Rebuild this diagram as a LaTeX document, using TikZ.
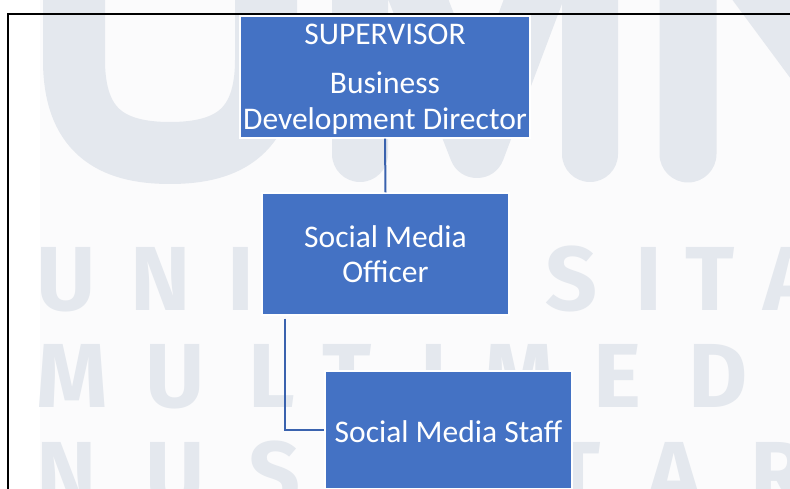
\documentclass[tikz,border=0pt]{standalone}
\usepackage{fontspec}
\setmainfont{Carlito}
\newfontfamily\wmfont{Fira Sans}
\usepackage{tikz}
\usetikzlibrary{calc}
\definecolor{boxblue}{HTML}{4472C4}
\definecolor{linkblue}{HTML}{3A62AE}
\definecolor{wmark}{HTML}{E4E8EE}
\definecolor{paper}{HTML}{FBFBFC}
\tikzset{
  box/.style={rectangle, fill=boxblue, draw=white, line width=1.2pt, text=white,
    align=center, inner sep=0pt, font=\fontsize{31.5}{35.5}\selectfont},
  link/.style={draw=linkblue, line width=2pt},
  frame/.style={draw=black, line width=2pt},
  wm/.style={draw=wmark, line cap=round, line join=round},
  wml/.style={text=wmark, anchor=base west, inner sep=0pt,
    font=\wmfont\bfseries\fontsize{91}{91}\selectfont}
}

\begin{document}
\begin{tikzpicture}[x=1pt,y=-1pt]
  \useasboundingbox (0,0) rectangle (790,489);
  \clip (0,0) rectangle (790,489);
  \fill[paper] (40,0) rectangle (790,489);

  % Watermark
  \draw[wm, line width=62pt] (74,-60) -- (74,60) .. controls (74,130) and (110,153) .. (170,153)
    .. controls (230,153) and (266,130) .. (266,60) -- (266,-60);
  \draw[wm, line width=56pt] (360,154) -- (360,-150) -- (477,150) -- (590,-150) -- (590,154);
  \draw[wm, line width=57pt] (688,154) -- (688,-108) -- (882,154) -- (882,-108);
  \foreach \l/\x [count=\i] in {U/41,N/135,I/232,S/550,I/640,T/690,A/768}
    \node[wml] (ua\i) at (\x-5,310) {\l};
  \foreach \l/\x [count=\i] in {M/41,U/150,L/253,T/327,I/425,M/488,E/598,D/693,I/790}
    \node[wml] (ub\i) at (\x-5,407) {\l};
  \foreach \l/\x [count=\i] in {N/41,U/150,S/253,T/556,A/652,R/755}
    \node[wml] (uc\i) at (\x-5,505) {\l};

  \node[box, minimum width=290pt, minimum height=122pt] (sup) at (385,77)
    {\rule{0pt}{25pt}SUPERVISOR\\[13.5pt]Business\\Development Director};
  \node[box, minimum width=247pt, minimum height=122pt] (smo) at (385.5,254)
    {Social Media\\Officer};
  \node[box, minimum width=247pt, minimum height=118pt, text height=26pt] (sms) at (448.5,430)
    {Social Media Staff};

  \coordinate (bend) at ($(smo.south west)+(24,3)$);
  \draw[link] (sup.south) -- (smo.north);
  \draw[link] (bend) |- (sms.west);

  \draw[frame] (790,14.5) -- (8,14.5) -- (8,489);
\end{tikzpicture}
\end{document}
